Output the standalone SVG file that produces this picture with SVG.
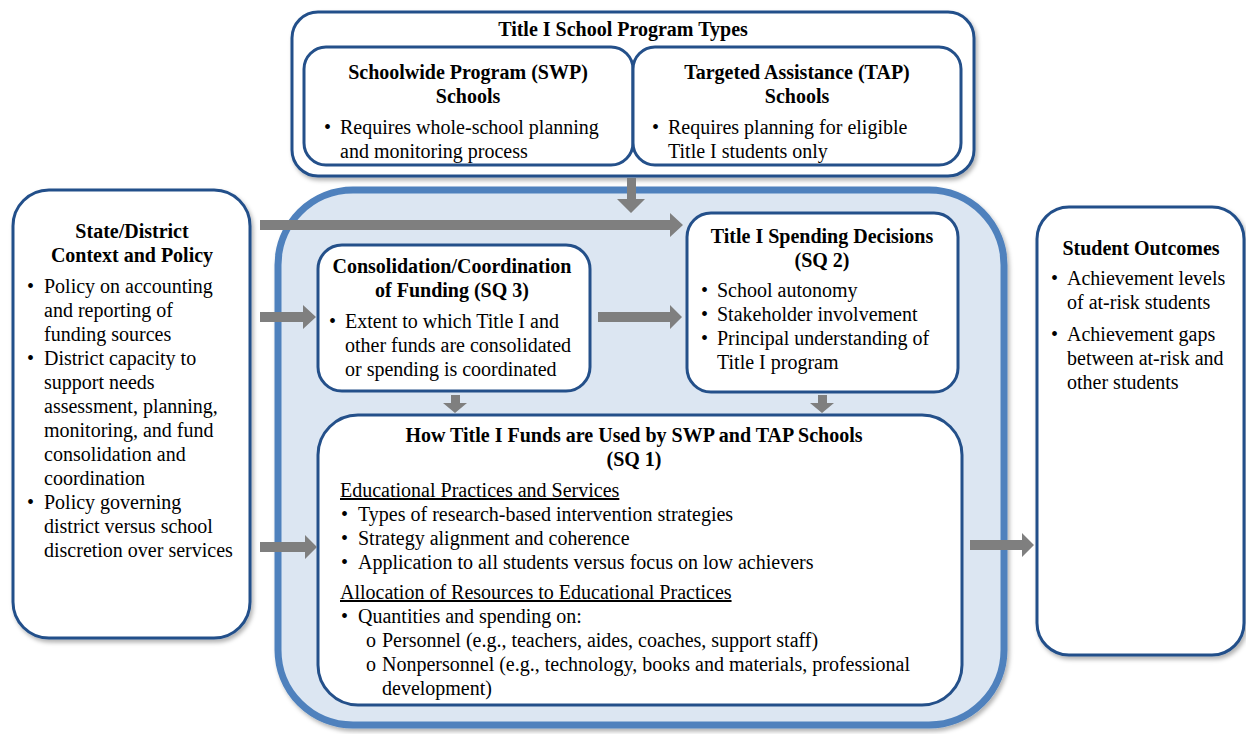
<svg xmlns="http://www.w3.org/2000/svg" width="1246" height="734" viewBox="0 0 1246 734">
<defs>
<filter id="sh" x="-5%" y="-5%" width="112%" height="112%">
<feDropShadow dx="2" dy="3" stdDeviation="2" flood-color="#000" flood-opacity="0.3"/>
</filter>
<style>
.box{fill:#fff;stroke:#24508A;stroke-width:3}
.big{fill:#DCE6F2;stroke:#4F81BD;stroke-width:7}
.t{font-family:"Liberation Serif","Times New Roman",serif;font-size:20px;fill:#000}
.b{font-weight:bold;text-anchor:middle}
.u{text-decoration:underline}
.arr{fill:#7F7F7F}
</style>
</defs>
<rect width="1246" height="734" fill="#fff"/>

<g id="program-types">
<rect class="box" x="292" y="12" width="682" height="164" rx="26" filter="url(#sh)"/>
<text class="t b" x="623" y="36">Title I School Program Types</text>
</g>
<g id="swp">
<rect class="box" x="304" y="47" width="329" height="118" rx="22"/>
<text class="t b" x="468" y="79">Schoolwide Program (SWP)</text>
<text class="t b" x="468" y="103">Schools</text>
<text class="t" x="324" y="134">•</text>
<text class="t" x="340" y="134">Requires whole-school planning</text>
<text class="t" x="340" y="158">and monitoring process</text>
</g>
<g id="tap">
<rect class="box" x="633" y="47" width="328" height="118" rx="22"/>
<text class="t b" x="797" y="79">Targeted Assistance (TAP)</text>
<text class="t b" x="797" y="103">Schools</text>
<text class="t" x="652" y="134">•</text>
<text class="t" x="668" y="134">Requires planning for eligible</text>
<text class="t" x="668" y="158">Title I students only</text>
</g>

<g id="container">
<rect class="big" x="278" y="190" width="726" height="535" rx="75" filter="url(#sh)"/>
</g>

<g id="state-district">
<rect class="box" x="13" y="190" width="237" height="448" rx="36" filter="url(#sh)"/>
<text class="t b" x="132" y="238">State/District</text>
<text class="t b" x="132" y="262">Context and Policy</text>
<text class="t" x="27" y="293">•</text>
<text class="t" x="44" y="293">Policy on accounting</text>
<text class="t" x="44" y="317">and reporting of</text>
<text class="t" x="44" y="341">funding sources</text>
<text class="t" x="27" y="365">•</text>
<text class="t" x="44" y="365">District capacity to</text>
<text class="t" x="44" y="389">support needs</text>
<text class="t" x="44" y="413">assessment, planning,</text>
<text class="t" x="44" y="437">monitoring, and fund</text>
<text class="t" x="44" y="461">consolidation and</text>
<text class="t" x="44" y="485">coordination</text>
<text class="t" x="27" y="509">•</text>
<text class="t" x="44" y="509">Policy governing</text>
<text class="t" x="44" y="533">district versus school</text>
<text class="t" x="44" y="557">discretion over services</text>
</g>

<g id="consolidation">
<rect class="box" x="318" y="245" width="272" height="146" rx="24"/>
<text class="t b" x="452" y="273">Consolidation/Coordination</text>
<text class="t b" x="452" y="297">of Funding (SQ 3)</text>
<text class="t" x="329" y="328">•</text>
<text class="t" x="345" y="328">Extent to which Title I and</text>
<text class="t" x="345" y="352">other funds are consolidated</text>
<text class="t" x="345" y="376">or spending is coordinated</text>
</g>

<g id="spending">
<rect class="box" x="687" y="213" width="271" height="179" rx="24"/>
<text class="t b" x="822" y="243">Title I Spending Decisions</text>
<text class="t b" x="822" y="267">(SQ 2)</text>
<text class="t" x="701" y="297">•</text>
<text class="t" x="717" y="297">School autonomy</text>
<text class="t" x="701" y="321">•</text>
<text class="t" x="717" y="321">Stakeholder involvement</text>
<text class="t" x="701" y="345">•</text>
<text class="t" x="717" y="345">Principal understanding of</text>
<text class="t" x="717" y="369">Title I program</text>
</g>

<g id="funds">
<rect class="box" x="318" y="415" width="644" height="290" rx="40"/>
<text class="t b" x="634" y="442">How Title I Funds are Used by SWP and TAP Schools</text>
<text class="t b" x="634" y="466">(SQ 1)</text>
<text class="t u" x="340" y="497">Educational Practices and Services</text>
<text class="t" x="341" y="521">•</text>
<text class="t" x="358" y="521">Types of research-based intervention strategies</text>
<text class="t" x="341" y="545">•</text>
<text class="t" x="358" y="545">Strategy alignment and coherence</text>
<text class="t" x="341" y="569">•</text>
<text class="t" x="358" y="569">Application to all students versus focus on low achievers</text>
<text class="t u" x="340" y="599">Allocation of Resources to Educational Practices</text>
<text class="t" x="341" y="623">•</text>
<text class="t" x="358" y="623">Quantities and spending on:</text>
<text class="t" x="366" y="647">o</text>
<text class="t" x="382" y="647">Personnel (e.g., teachers, aides, coaches, support staff)</text>
<text class="t" x="366" y="671">o</text>
<text class="t" x="382" y="671">Nonpersonnel (e.g., technology, books and materials, professional</text>
<text class="t" x="382" y="695">development)</text>
</g>

<g id="outcomes">
<rect class="box" x="1037" y="207" width="207" height="448" rx="32" filter="url(#sh)"/>
<text class="t b" x="1141" y="255">Student Outcomes</text>
<text class="t" x="1051" y="285">•</text>
<text class="t" x="1067" y="285">Achievement levels</text>
<text class="t" x="1067" y="309">of at-risk students</text>
<text class="t" x="1051" y="341">•</text>
<text class="t" x="1067" y="341">Achievement gaps</text>
<text class="t" x="1067" y="365">between at-risk and</text>
<text class="t" x="1067" y="389">other students</text>
</g>

<g id="connectors">
<polygon class="arr" points="627,178 636,178 636,199 645,199 631,213 617,199 627,199"/>
<polygon class="arr" points="260,220 670,220 670,213 683,225 670,237 670,230 260,230"/>
<polygon class="arr" points="260,312 303,312 303,305 316,317 303,329 303,322 260,322"/>
<polygon class="arr" points="598,312 670,312 670,305 682,317 670,329 670,322 598,322"/>
<polygon class="arr" points="451,395 460,395 460,403 467,403 455,413 443,403 451,403"/>
<polygon class="arr" points="818,395 827,395 827,403 834,403 822,413 810,403 818,403"/>
<polygon class="arr" points="260,542 305,542 305,535 317,547 305,559 305,552 260,552"/>
<polygon class="arr" points="970,540 1022,540 1022,533 1034,545 1022,557 1022,550 970,550"/>
</g>
</svg>
